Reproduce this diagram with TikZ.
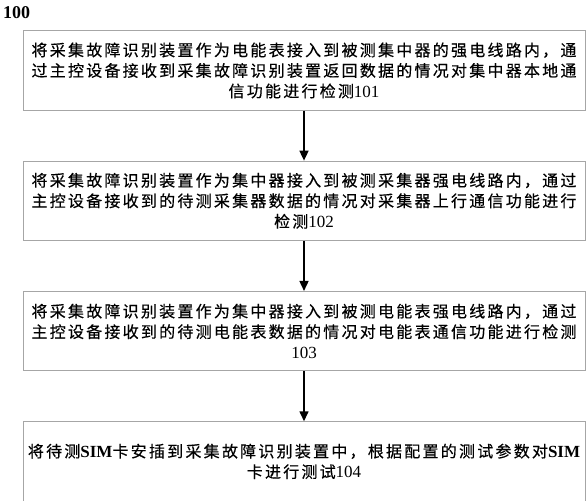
\documentclass[tikz,border=0pt]{standalone}
\usepackage{fontspec}
\setmainfont{Liberation Serif}
\newfontfamily\cjk[LetterSpace=14,FakeBold=0.4]{Noto Sans CJK SC}
\usetikzlibrary{positioning,arrows.meta}
\newcommand\wnum[1]{{\rmfamily\fontsize{17}{20.5}\selectfont #1}}
\newcommand\wbold[1]{{\rmfamily\bfseries\fontsize{17}{20.5}\selectfont #1}}
\tikzset{%
stepbox/.style={draw=gray!70,line width=0.8pt,text width=556pt,inner xsep=3pt,
                minimum height=79.5pt,align=center,font=\cjk\fontsize{16}{20.5}\selectfont},
flow/.style={-{Triangle[width=9pt,length=10pt]},line width=1.6pt}
}
\begin{document}
\begin{tikzpicture}[x=1pt,y=1pt]
\useasboundingbox (0,0) rectangle (588,-500);
\node[anchor=north west,inner sep=0pt,font=\fontsize{18}{20}\selectfont\bfseries] (fig) at (3,-6) {100};
\node[stepbox] (s1) at (304,-70.5)
      {将采集故障识别装置作为电能表接入到被测集中器的强电线路内，通\\
       过主控设备接收到采集故障识别装置返回数据的情况对集中器本地通\\
       信功能进行检测\wnum{101}};
\node[stepbox,below=50pt of s1] (s2)
      {将采集故障识别装置作为集中器接入到被测采集器强电线路内，通过\\
       主控设备接收到的待测采集器数据的情况对采集器上行通信功能进行\\
       检测\wnum{102}};
\node[stepbox,below=50pt of s2] (s3)
      {将采集故障识别装置作为集中器接入到被测电能表强电线路内，通过\\
       主控设备接收到的待测电能表数据的情况对电能表通信功能进行检测\\
       \wnum{103}};
\node[stepbox,below=50pt of s3] (s4)
      {将待测\wbold{SIM}卡安插到采集故障识别装置中，根据配置的测试参数对\wbold{SIM}\\
       卡进行测试\wnum{104}};
\draw[flow] (s1) -- (s2);
\draw[flow] (s2) -- (s3);
\draw[flow] (s3) -- (s4);
\end{tikzpicture}
\end{document}
